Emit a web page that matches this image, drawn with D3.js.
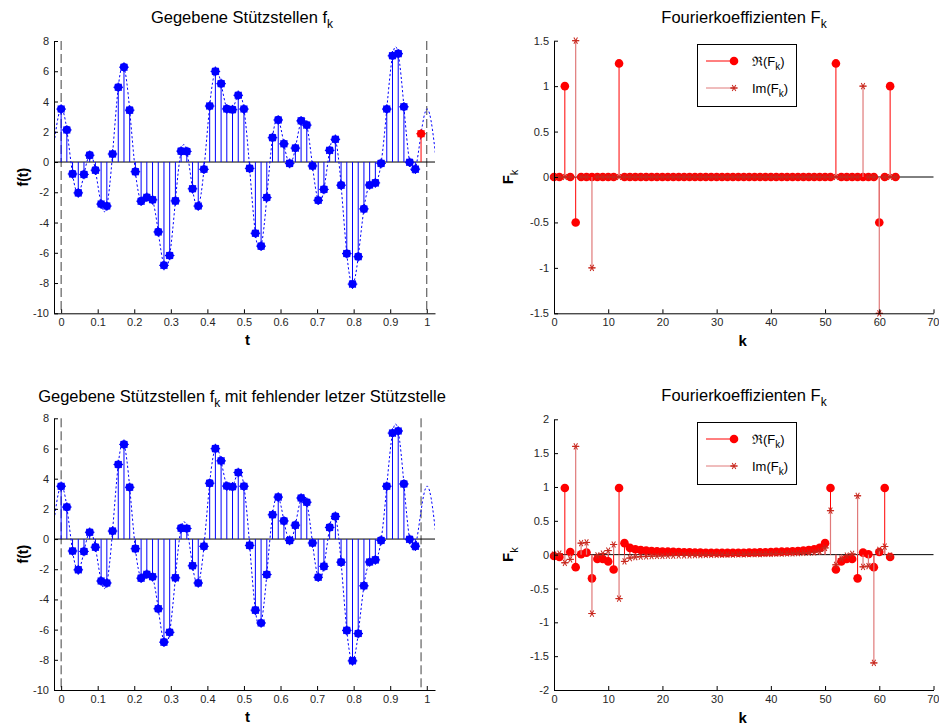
<!DOCTYPE html>
<html>
<head>
<meta charset="utf-8">
<script src="https://cdn.jsdelivr.net/npm/d3@7"></script>
<style>
  body { margin: 0; background: #fff; }
  svg { display: block; }
  text { font-family: "Liberation Sans", Arial, Helvetica, sans-serif; }
</style>
</head>
<body>
<svg id="fig" width="939" height="725"></svg>
<script>
// ---- data ---------------------------------------------------------------
// samples f_k = f(k/64), k = 0..63 (the last one is drawn in red on top)
const samples = [3.50, 2.12, -0.79, -2.04, -0.82, 0.45, -0.54, -2.78, -2.91, 0.53,
  4.94, 6.27, 3.43, -0.64, -2.59, -2.33, -2.50, -4.62, -6.83, -6.18,
  -2.57, 0.72, 0.70, -1.77, -2.91, -0.48, 3.70, 5.99, 5.18, 3.51,
  3.46, 4.41, 3.50, -0.42, -4.71, -5.56, -2.35, 1.61, 2.78, 1.20,
  -0.09, 0.92, 2.72, 2.44, -0.26, -2.53, -1.81, 0.77, 1.50, -1.53,
  -6.05, -8.07, -6.26, -3.10, -1.52, -1.38, -0.09, 3.50, 7.02, 7.16,
  3.65, -0.02, -0.47, 1.87];

// Fourier coefficients of all 64 samples
const reF64 = [0, 0, 1, 0, -0.5, 0, 0, 0, 0, 0, 0, 0, 1.25, 0, 0, 0,
  0, 0, 0, 0, 0, 0, 0, 0, 0, 0, 0, 0, 0, 0, 0, 0,
  0, 0, 0, 0, 0, 0, 0, 0, 0, 0, 0, 0, 0, 0, 0, 0,
  0, 0, 0, 0, 1.25, 0, 0, 0, 0, 0, 0, 0, -0.5, 0, 1, 0];
const imF64 = [0, 0, 0, 0, 1.5, 0, 0, -1, 0, 0, 0, 0, 0, 0, 0, 0,
  0, 0, 0, 0, 0, 0, 0, 0, 0, 0, 0, 0, 0, 0, 0, 0,
  0, 0, 0, 0, 0, 0, 0, 0, 0, 0, 0, 0, 0, 0, 0, 0,
  0, 0, 0, 0, 0, 0, 0, 0, 0, 1, 0, 0, -1.5, 0, 0, 0];

// Fourier coefficients of the first 63 samples (last sample missing)
const reF63 = [-0.02, -0.035, 0.985, 0.04, -0.185, 0.005, 0.03, -0.35, -0.065, -0.065,
  -0.1, -0.22, 0.985, 0.17, 0.1, 0.08, 0.068, 0.06, 0.055, 0.05,
  0.047, 0.044, 0.041, 0.038, 0.036, 0.034, 0.032, 0.03, 0.029, 0.028,
  0.027, 0.026, 0.026, 0.027, 0.028, 0.029, 0.03, 0.032, 0.034, 0.036,
  0.038, 0.041, 0.044, 0.047, 0.05, 0.055, 0.06, 0.068, 0.08, 0.1,
  0.17, 0.985, -0.22, -0.1, -0.065, -0.065, -0.35, 0.03, 0.005, -0.185,
  0.04, 0.985, -0.035];
const imF63 = [0, 0.015, -0.12, -0.07, 1.6, 0.17, 0.18, -0.87, -0.01, 0.015,
  0.06, 0.15, -0.65, -0.1, -0.05, -0.035, -0.03, -0.025, -0.022, -0.02,
  -0.018, -0.016, -0.014, -0.012, -0.01, -0.009, -0.007, -0.006, -0.004, -0.003,
  -0.002, -0.001, 0.001, 0.002, 0.003, 0.004, 0.006, 0.007, 0.009, 0.01,
  0.012, 0.014, 0.016, 0.018, 0.02, 0.022, 0.025, 0.03, 0.035, 0.05,
  0.1, 0.65, -0.15, -0.06, -0.015, 0.01, 0.87, -0.18, -0.17, -1.6,
  0.07, 0.12, -0.015];

const tTicks = [0, 0.1, 0.2, 0.3, 0.4, 0.5, 0.6, 0.7, 0.8, 0.9, 1];
const fTicks = [-10, -8, -6, -4, -2, 0, 2, 4, 6, 8];
const kTicks = [0, 10, 20, 30, 40, 50, 60, 70];
const coefTicksTop = [-1.5, -1, -0.5, 0, 0.5, 1, 1.5];
const coefTicksBottom = [-2, -1.5, -1, -0.5, 0, 0.5, 1, 1.5, 2];

// ---- drawing ------------------------------------------------------------
const svg = d3.select("#fig");
const BLUE = "#0000ff", RED = "#ff0000", IMLINE = "#e07a7a", IMMARK = "#c8281e";
const tickFmt = d => String(d);

function frame(x0, x1, y0, y1, xDomain, yDomain) {
  const x = d3.scaleLinear().domain(xDomain).range([x0, x1]);
  const y = d3.scaleLinear().domain(yDomain).range([y1, y0]);
  return { x, y, x0, x1, y0, y1 };
}

function axes(g, f, xTicks, yTicks) {
  const ax = g.append("g").attr("transform", `translate(0,${f.y1})`)
    .call(d3.axisBottom(f.x).tickValues(xTicks).tickFormat(tickFmt)
      .tickSizeInner(-4).tickSizeOuter(0).tickPadding(5));
  const ay = g.append("g").attr("transform", `translate(${f.x0},0)`)
    .call(d3.axisLeft(f.y).tickValues(yTicks).tickFormat(tickFmt)
      .tickSizeInner(-4).tickSizeOuter(0).tickPadding(5));
  [ax, ay].forEach(a => {
    a.selectAll("path.domain").attr("stroke", "#000");
    a.selectAll(".tick line").attr("stroke", "#000");
    a.selectAll(".tick text").attr("fill", "#262626").style("font-size", "11px")
      .style("font-family", '"Liberation Sans", Arial, sans-serif');
  });
  // keep a label sitting on the figure's right edge inside the figure
  ax.selectAll(".tick text").filter(function () {
    return this.parentNode.getBoundingClientRect().x > 925;
  }).attr("text-anchor", "end").attr("dx", 5.5);
}

function title(g, x, y, main, sub, rest) {
  const t = g.append("text").attr("x", x).attr("y", y).attr("text-anchor", "middle")
    .style("font-size", "16.5px").attr("fill", "#000");
  t.append("tspan").text(main);
  t.append("tspan").text(sub).attr("dy", 5).style("font-size", "12px");
  if (rest) t.append("tspan").text(rest).attr("dy", -5);
}

function baseline(g, f) {
  g.append("line").attr("x1", f.x0).attr("x2", f.x1)
    .attr("y1", f.y(0)).attr("y2", f.y(0)).attr("stroke", "#000").attr("stroke-width", 1);
}

function markerDot(sel, color) {
  sel.append("circle").attr("r", 4.1).attr("fill", color);
  [0, 45, 90, 135].forEach(a => {
    sel.append("line").attr("x1", -4.8).attr("x2", 4.8).attr("y1", 0).attr("y2", 0)
      .attr("transform", `rotate(${a})`).attr("stroke", color).attr("stroke-width", 1.1);
  });
}

function starMark(sel, color) {
  [0, 60, 120].forEach(a => {
    sel.append("line").attr("x1", -3.6).attr("x2", 3.6).attr("y1", 0).attr("y2", 0)
      .attr("transform", `rotate(${a})`).attr("stroke", color).attr("stroke-width", 1);
  });
  sel.append("line").attr("x1", -3.4).attr("x2", 3.4).attr("y1", 0).attr("y2", 0)
    .attr("stroke", color).attr("stroke-width", 1);
}

// stem plot of samples with the dotted interpolating curve
function samplePanel(id, f, vals, period, lastRed, curveVals, titleParts) {
  const g = svg.append("g").attr("id", id);
  const clipId = id + "-clip";
  g.append("clipPath").attr("id", clipId).append("rect")
    .attr("x", f.x0).attr("y", f.y0).attr("width", f.x1 - f.x0).attr("height", f.y1 - f.y0);

  // dashed lines at both period ends
  [0, period].forEach(t => {
    g.append("line").attr("x1", f.x(t)).attr("x2", f.x(t)).attr("y1", f.y0).attr("y2", f.y1)
      .attr("stroke", "#404040").attr("stroke-width", 1).attr("stroke-dasharray", "9,4");
  });

  baseline(g, f);

  // dotted curve through the samples, continued periodically past both ends
  const n = curveVals.length;
  const pts = d3.range(-3, n + 4).map(j => [j / 64, curveVals[((j % n) + n) % n]]);
  g.append("path").attr("clip-path", `url(#${clipId})`)
    .attr("d", d3.line().x(d => f.x(d[0])).y(d => f.y(d[1])).curve(d3.curveNatural)(pts))
    .attr("fill", "none").attr("stroke", BLUE).attr("stroke-width", 1)
    .attr("stroke-dasharray", "2.2,2.2");

  const data = vals.map((v, k) => ({ t: k / 64, v, red: lastRed && k === vals.length - 1 }));
  g.selectAll("line.stem").data(data).join("line").attr("class", "stem")
    .attr("x1", d => f.x(d.t)).attr("x2", d => f.x(d.t))
    .attr("y1", f.y(0)).attr("y2", d => f.y(d.v))
    .attr("stroke", d => d.red ? RED : BLUE).attr("stroke-width", 1);
  g.selectAll("g.mk").data(data).join("g").attr("class", "mk")
    .attr("transform", d => `translate(${f.x(d.t)},${f.y(d.v)})`)
    .each(function (d) { markerDot(d3.select(this), d.red ? RED : BLUE); });

  axes(g, f, tTicks, fTicks);
  title(g, ...titleParts);

  g.append("text").attr("x", (f.x0 + f.x1) / 2 + 3).attr("y", f.y1 + 32)
    .attr("text-anchor", "middle").style("font-size", "15px").style("font-weight", "bold").text("t");
  g.append("text").attr("transform", `translate(${f.x0 - 26},${(f.y0 + f.y1) / 2}) rotate(-90)`)
    .attr("text-anchor", "middle").style("font-size", "14px").style("font-weight", "bold").text("f(t)");
}

// stem plot of real and imaginary parts of the coefficients
function coefPanel(id, f, re, im, yTicks, legendY) {
  const g = svg.append("g").attr("id", id);
  baseline(g, f);
  const dRe = re.map((v, k) => ({ k, v }));
  const dIm = im.map((v, k) => ({ k, v }));

  g.selectAll("line.re").data(dRe).join("line").attr("class", "re")
    .attr("x1", d => f.x(d.k)).attr("x2", d => f.x(d.k))
    .attr("y1", f.y(0)).attr("y2", d => f.y(d.v)).attr("stroke", RED).attr("stroke-width", 1);
  g.selectAll("circle.re").data(dRe).join("circle").attr("class", "re")
    .attr("cx", d => f.x(d.k)).attr("cy", d => f.y(d.v)).attr("r", 4.3).attr("fill", RED);

  g.selectAll("line.im").data(dIm).join("line").attr("class", "im")
    .attr("x1", d => f.x(d.k)).attr("x2", d => f.x(d.k))
    .attr("y1", f.y(0)).attr("y2", d => f.y(d.v)).attr("stroke", IMLINE).attr("stroke-width", 1.2);
  g.selectAll("g.im").data(dIm).join("g").attr("class", "im")
    .attr("transform", d => `translate(${f.x(d.k)},${f.y(d.v)})`)
    .each(function () { starMark(d3.select(this), IMMARK); });

  axes(g, f, kTicks, yTicks);

  g.append("text").attr("x", (f.x0 + f.x1) / 2 - 1).attr("y", f.y1 + 33)
    .attr("text-anchor", "middle").style("font-size", "15px").style("font-weight", "bold").text("k");
  const yl = g.append("text")
    .attr("transform", `translate(${f.x0 - 41},${(f.y0 + f.y1) / 2}) rotate(-90)`)
    .attr("text-anchor", "middle").style("font-size", "15px").style("font-weight", "bold");
  yl.append("tspan").text("F");
  yl.append("tspan").text("k").attr("dy", 5).style("font-size", "11px").style("font-weight", "normal");

  // legend
  const lx = 697, ly = legendY, lw = 99, lh = 62;
  const lg = g.append("g");
  lg.append("rect").attr("x", lx + 0.5).attr("y", ly + 0.5).attr("width", lw).attr("height", lh)
    .attr("fill", "#fff").attr("stroke", "#000").attr("stroke-width", 1);
  const rows = [{ dy: 17, kind: "re", label: "\u211C(F" }, { dy: 44, kind: "im", label: "Im(F" }];
  rows.forEach(r => {
    const yy = ly + r.dy;
    lg.append("line").attr("x1", lx + 9).attr("x2", lx + 37).attr("y1", yy).attr("y2", yy)
      .attr("stroke", r.kind === "re" ? RED : IMLINE).attr("stroke-width", 1);
    if (r.kind === "re") {
      lg.append("circle").attr("cx", lx + 37).attr("cy", yy).attr("r", 4.3).attr("fill", RED);
    } else {
      starMark(lg.append("g").attr("transform", `translate(${lx + 37},${yy})`), IMMARK);
    }
    const t = lg.append("text").attr("x", lx + 55).attr("y", yy + 5).style("font-size", "13px");
    t.append("tspan").text(r.label);
    t.append("tspan").text("k").attr("dy", 4).style("font-size", "10px");
    t.append("tspan").text(")").attr("dy", -4);
  });
}

// ---- panels -------------------------------------------------------------
const fTop = frame(54, 435, 41, 313.3, [-0.0195, 1.0225], [-10, 8]);
samplePanel("top-left", fTop, samples, 1, true, samples,
  [242, 23, "Gegebene Stützstellen f", "k", null]);

const fBot = frame(54, 435, 418.3, 690, [-0.0195, 1.0225], [-10, 8]);
samplePanel("bottom-left", fBot, samples.slice(0, 63), 63 / 64, false, samples,
  [242, 401.5, "Gegebene Stützstellen f", "k", " mit fehlender letzer Stützstelle"]);

const cTop = frame(554, 933.5, 40.7, 313.3, [0, 70], [-1.5, 1.5]);
coefPanel("top-right", cTop, reF64, imF64, coefTicksTop, 44);
title(svg, 744, 23, "Fourierkoeffizienten F", "k", null);

const cBot = frame(554, 933.5, 419.3, 690, [0, 70], [-2, 2]);
coefPanel("bottom-right", cBot, reF63, imF63, coefTicksBottom, 422);
title(svg, 744, 401, "Fourierkoeffizienten F", "k", null);
</script>
</body>
</html>
